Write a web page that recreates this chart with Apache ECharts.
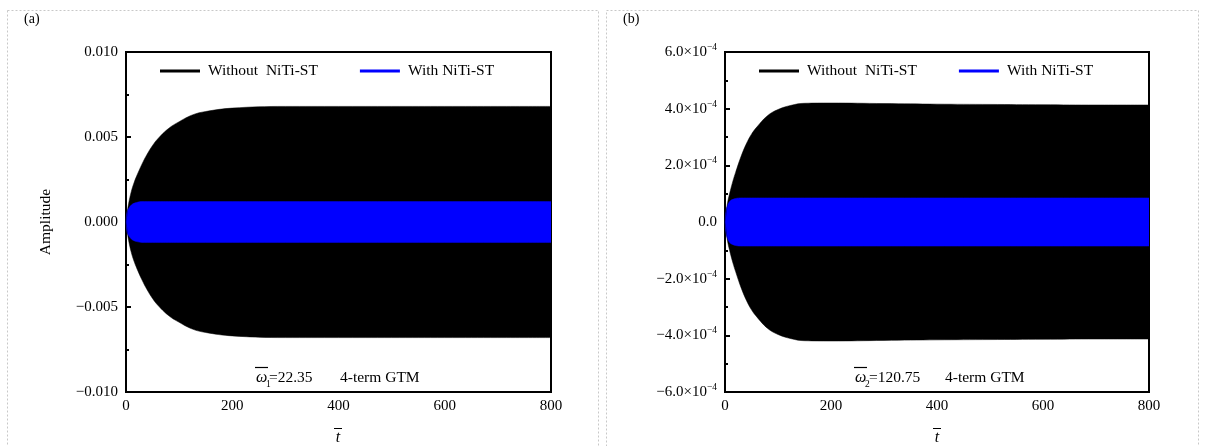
<!DOCTYPE html>
<html>
<head>
<meta charset="utf-8">
<script src="https://cdn.jsdelivr.net/npm/echarts@6/dist/echarts.min.js"></script>
<style>
  html, body { margin: 0; padding: 0; background: #fff; }
  #chart { width: 1205px; height: 446px; }
</style>
</head>
<body>
<div id="chart"></div>
<script>
var tPts = [0, 2, 5, 10, 15, 20, 30, 40, 50, 60, 80, 100, 125, 150, 200, 300, 400, 500, 600, 700, 800];

// (a) envelopes
var blackUpA = [0, 0.0005, 0.0011, 0.0018, 0.0023, 0.0027, 0.0034, 0.0040, 0.0045, 0.0049, 0.0055, 0.0059, 0.0063, 0.0065, 0.0067, 0.0068, 0.0068, 0.0068, 0.0068, 0.0068, 0.0068];
var blackLoA = [0, -0.0005, -0.0011, -0.0018, -0.0023, -0.0027, -0.0034, -0.0040, -0.0045, -0.0049, -0.0055, -0.0059, -0.0063, -0.0065, -0.0067, -0.0068, -0.0068, -0.0068, -0.0068, -0.0068, -0.0068];
var blueUpA = [0, 0.0006, 0.0008, 0.0010, 0.0011, 0.00115, 0.0012, 0.0012, 0.0012, 0.0012, 0.0012, 0.0012, 0.0012, 0.0012, 0.0012, 0.0012, 0.0012, 0.0012, 0.0012, 0.0012, 0.0012];
var blueLoA = [0, -0.0006, -0.0008, -0.0010, -0.0011, -0.00115, -0.0012, -0.0012, -0.0012, -0.0012, -0.0012, -0.0012, -0.0012, -0.0012, -0.0012, -0.0012, -0.0012, -0.0012, -0.0012, -0.0012, -0.0012];

// (b) envelopes
var blackUpB = [0, 0.3e-4, 0.7e-4, 1.1e-4, 1.45e-4, 1.75e-4, 2.3e-4, 2.75e-4, 3.1e-4, 3.35e-4, 3.75e-4, 3.97e-4, 4.12e-4, 4.19e-4, 4.2e-4, 4.18e-4, 4.16e-4, 4.15e-4, 4.14e-4, 4.13e-4, 4.13e-4];
var blackLoB = [0, -0.3e-4, -0.7e-4, -1.1e-4, -1.45e-4, -1.75e-4, -2.3e-4, -2.75e-4, -3.1e-4, -3.35e-4, -3.75e-4, -3.97e-4, -4.12e-4, -4.19e-4, -4.2e-4, -4.18e-4, -4.16e-4, -4.15e-4, -4.14e-4, -4.13e-4, -4.13e-4];
var blueUpB = [0, 0.4e-4, 0.6e-4, 0.75e-4, 0.8e-4, 0.83e-4, 0.85e-4, 0.85e-4, 0.85e-4, 0.85e-4, 0.85e-4, 0.85e-4, 0.85e-4, 0.85e-4, 0.85e-4, 0.85e-4, 0.85e-4, 0.85e-4, 0.85e-4, 0.85e-4, 0.85e-4];
var blueLoB = [0, -0.4e-4, -0.6e-4, -0.75e-4, -0.8e-4, -0.83e-4, -0.85e-4, -0.85e-4, -0.85e-4, -0.85e-4, -0.85e-4, -0.85e-4, -0.85e-4, -0.85e-4, -0.85e-4, -0.85e-4, -0.85e-4, -0.85e-4, -0.85e-4, -0.85e-4, -0.85e-4];

var seriesNames = ['Without  NiTi-ST', 'With NiTi-ST'];
var xTicks = [0, 800, 200];          // min, max, interval
var yTicksA = [-0.010, 0.010, 0.005];
var yTicksB = [-6e-4, 6e-4, 2e-4];

var FONT = "'Liberation Serif', 'DejaVu Serif', serif";

function pairs(vals) {
    return tPts.map(function (t, i) { return [t, vals[i]]; });
}

function band(name, vals, color, idx) {
    return {
        name: name,
        type: 'line',
        xAxisIndex: idx,
        yAxisIndex: idx,
        data: pairs(vals),
        smooth: 0.4,
        symbol: 'none',
        lineStyle: { color: color, width: 0.5 },
        itemStyle: { color: color },
        areaStyle: { color: color, opacity: 1, origin: 0 },
        silent: true
    };
}

function xAx(idx) {
    return {
        type: 'value',
        gridIndex: idx,
        min: xTicks[0], max: xTicks[1], interval: xTicks[2],
        axisLine: { lineStyle: { color: '#000', width: 2 } },
        axisTick: { inside: true, length: 5, lineStyle: { color: '#000', width: 2 } },
        minorTick: { show: true, splitNumber: 2, length: 3, lineStyle: { color: '#000', width: 2 } },
        axisLabel: { color: '#000', fontFamily: FONT, fontSize: 15, margin: 7 },
        splitLine: { show: false }
    };
}

function supLabel(v) {
    var m = Math.round(v * 1e5) / 10;
    if (m === 0) return '{b|0.0}';
    var s = (m < 0 ? '\u2212' : '') + Math.abs(m).toFixed(1);
    return '{b|' + s + '\u00d710}{s|\u22124}';
}

var legendStyle = {
    orient: 'horizontal',
    itemWidth: 40,
    itemHeight: 3,
    itemGap: 42,
    icon: 'rect',
    textStyle: { color: '#000', fontFamily: FONT, fontSize: 15.5, padding: [0, 0, 0, 3] },
    data: [
        { name: seriesNames[0], itemStyle: { color: '#000' } },
        { name: seriesNames[1], itemStyle: { color: '#0000ff' } }
    ]
};

var option = {
    animation: false,
    backgroundColor: '#fff',
    grid: [
        { left: 126, top: 52, width: 425, height: 340, show: true, borderColor: '#000', borderWidth: 2, backgroundColor: 'transparent', z: 3 },
        { left: 725, top: 52, width: 424, height: 340, show: true, borderColor: '#000', borderWidth: 2, backgroundColor: 'transparent', z: 3 }
    ],
    legend: [
        Object.assign({ left: 155, top: 58 }, legendStyle),
        Object.assign({ left: 754, top: 58 }, legendStyle)
    ],
    xAxis: [xAx(0), xAx(1)],
    yAxis: [
        {
            type: 'value', gridIndex: 0,
            min: yTicksA[0], max: yTicksA[1], interval: yTicksA[2],
            name: 'Amplitude', nameLocation: 'middle', nameGap: 72, nameRotate: 90,
            nameTextStyle: { color: '#000', fontFamily: FONT, fontSize: 15.5 },
            axisLine: { lineStyle: { color: '#000', width: 2 } },
            axisTick: { inside: true, length: 5, lineStyle: { color: '#000', width: 2 } },
            minorTick: { show: true, splitNumber: 2, length: 3, lineStyle: { color: '#000', width: 2 } },
            axisLabel: {
                color: '#000', fontFamily: FONT, fontSize: 15, margin: 8,
                formatter: function (v) {
                    var s = Math.abs(v).toFixed(3);
                    return (v < -1e-9 ? '\u2212' : '') + s;
                }
            },
            splitLine: { show: false }
        },
        {
            type: 'value', gridIndex: 1,
            min: yTicksB[0], max: yTicksB[1], interval: yTicksB[2],
            axisLine: { lineStyle: { color: '#000', width: 2 } },
            axisTick: { inside: true, length: 5, lineStyle: { color: '#000', width: 2 } },
            minorTick: { show: true, splitNumber: 2, length: 3, lineStyle: { color: '#000', width: 2 } },
            axisLabel: {
                color: '#000', fontFamily: FONT, fontSize: 15, margin: 8,
                formatter: supLabel,
                rich: {
                    b: { color: '#000', fontFamily: FONT, fontSize: 15 },
                    s: { color: '#000', fontFamily: FONT, fontSize: 9.5, padding: [0, 0, 9, 0] }
                }
            },
            splitLine: { show: false }
        }
    ],
    series: [
        band(seriesNames[0], blackUpA, '#000', 0),
        band(seriesNames[0], blackLoA, '#000', 0),
        band(seriesNames[1], blueUpA, '#0000ff', 0),
        band(seriesNames[1], blueLoA, '#0000ff', 0),
        band(seriesNames[0], blackUpB, '#000', 1),
        band(seriesNames[0], blackLoB, '#000', 1),
        band(seriesNames[1], blueUpB, '#0000ff', 1),
        band(seriesNames[1], blueLoB, '#0000ff', 1)
    ],
    graphic: [
        // panel frames
        { type: 'rect', shape: { x: 7.5, y: 10.5, width: 591, height: 450 }, style: { fill: 'none', stroke: '#c8c8c8', lineWidth: 1, lineDash: [2, 2] }, silent: true },
        { type: 'rect', shape: { x: 606.5, y: 10.5, width: 592, height: 450 }, style: { fill: 'none', stroke: '#c8c8c8', lineWidth: 1, lineDash: [2, 2] }, silent: true },
        // panel letters
        { type: 'text', left: 24, top: 12, style: { text: '(a)', font: '14px ' + FONT, fill: '#000' } },
        { type: 'text', left: 623, top: 12, style: { text: '(b)', font: '14px ' + FONT, fill: '#000' } },
        // x axis names (t with overbar)
        { type: 'text', x: 338, y: 438, style: { text: 't', font: 'italic 16px ' + FONT, fill: '#000', align: 'center', verticalAlign: 'middle' } },
        { type: 'line', shape: { x1: 334, y1: 428.5, x2: 342, y2: 428.5 }, style: { stroke: '#000', lineWidth: 1 } },
        { type: 'text', x: 937, y: 438, style: { text: 't', font: 'italic 16px ' + FONT, fill: '#000', align: 'center', verticalAlign: 'middle' } },
        { type: 'line', shape: { x1: 933, y1: 428.5, x2: 941, y2: 428.5 }, style: { stroke: '#000', lineWidth: 1 } },
        // annotations
        { type: 'text', x: 256, y: 378, z: 10, style: { text: '\u03c9', font: 'italic 16px ' + FONT, fill: '#000', verticalAlign: 'middle' } },
        { type: 'text', x: 266, y: 384, z: 10, style: { text: '1', font: '9.5px ' + FONT, fill: '#000', verticalAlign: 'middle' } },
        { type: 'line', z: 10, shape: { x1: 255, y1: 367.5, x2: 268, y2: 367.5 }, style: { stroke: '#000', lineWidth: 1.2 } },
        { type: 'text', x: 269, y: 378, z: 10, style: { text: '=22.35', font: '15.5px ' + FONT, fill: '#000', verticalAlign: 'middle' } },
        { type: 'text', x: 340, y: 378, z: 10, style: { text: '4-term GTM', font: '15.5px ' + FONT, fill: '#000', verticalAlign: 'middle' } },
        { type: 'text', x: 855, y: 378, z: 10, style: { text: '\u03c9', font: 'italic 16px ' + FONT, fill: '#000', verticalAlign: 'middle' } },
        { type: 'text', x: 865, y: 384, z: 10, style: { text: '2', font: '9.5px ' + FONT, fill: '#000', verticalAlign: 'middle' } },
        { type: 'line', z: 10, shape: { x1: 854, y1: 367.5, x2: 867, y2: 367.5 }, style: { stroke: '#000', lineWidth: 1.2 } },
        { type: 'text', x: 869, y: 378, z: 10, style: { text: '=120.75', font: '15.5px ' + FONT, fill: '#000', verticalAlign: 'middle' } },
        { type: 'text', x: 945, y: 378, z: 10, style: { text: '4-term GTM', font: '15.5px ' + FONT, fill: '#000', verticalAlign: 'middle' } }
    ]
};

var myChart = echarts.init(document.getElementById('chart'), null, { renderer: 'canvas' });
myChart.setOption(option);
window.addEventListener('resize', function () { myChart.resize(); });
</script>
</body>
</html>
